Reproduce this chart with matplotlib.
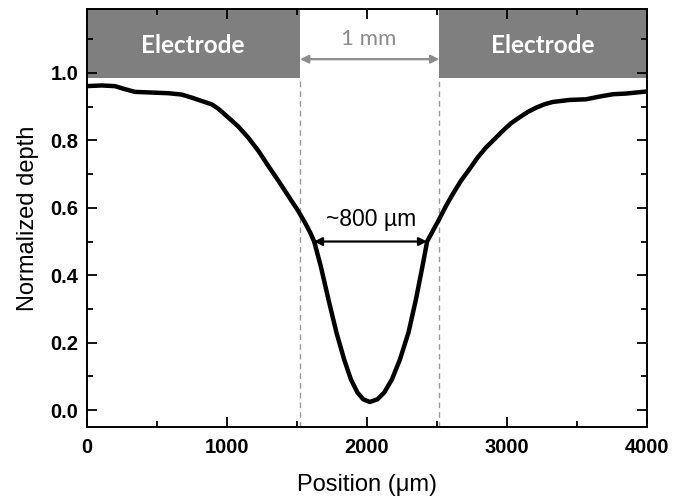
import matplotlib
matplotlib.use('Agg')
import matplotlib.pyplot as plt
from matplotlib.patches import Rectangle
from matplotlib.ticker import MultipleLocator

# profile
pos = [0, 107, 202, 274, 345, 464, 583, 679, 750, 821, 893, 940, 1011, 1083,
       1154, 1226, 1297, 1369, 1440, 1511, 1560, 1600, 1624, 1671, 1726, 1783,
       1838, 1886, 1933, 1974, 2021, 2076, 2124, 2179, 2236, 2297, 2350, 2397,
       2430, 2475, 2516, 2564, 2612, 2671, 2731, 2790, 2850, 2909, 2969, 3029,
       3088, 3147, 3207, 3266, 3326, 3445, 3564, 3660, 3755, 3850, 3993]
depth = [0.961, 0.963, 0.961, 0.952, 0.944, 0.942, 0.940, 0.936, 0.927, 0.917,
         0.907, 0.894, 0.868, 0.841, 0.808, 0.769, 0.724, 0.680, 0.635, 0.590,
         0.555, 0.523, 0.500, 0.427, 0.328, 0.230, 0.150, 0.091, 0.052, 0.032,
         0.024, 0.032, 0.052, 0.091, 0.150, 0.230, 0.328, 0.427, 0.500, 0.535,
         0.566, 0.605, 0.640, 0.680, 0.714, 0.749, 0.779, 0.803, 0.828, 0.851,
         0.868, 0.884, 0.897, 0.907, 0.914, 0.920, 0.922, 0.930, 0.937, 0.939,
         0.945]

gap_left, gap_right = 1524, 2516
electrode_bottom = 0.984
ymin, ymax = -0.05, 1.19
xticks = [0, 1000, 2000, 3000, 4000]
yticks = [0.0, 0.2, 0.4, 0.6, 0.8, 1.0]

fig = plt.figure(figsize=(6.87, 4.97), dpi=100)
ax = fig.add_axes([0.126, 0.141, 0.816, 0.841])

# electrodes
ax.add_patch(Rectangle((0, electrode_bottom), gap_left, ymax - electrode_bottom,
                       color='#7f7f7f', lw=0, zorder=1))
ax.add_patch(Rectangle((gap_right, electrode_bottom), 4000 - gap_right,
                       ymax - electrode_bottom, color='#7f7f7f', lw=0, zorder=1))
ax.text(755, 1.082, 'Electrode', color='white', fontsize=17.5,
        fontweight='bold', family='Lato', ha='center', va='center')
ax.text(3256, 1.082, 'Electrode', color='white', fontsize=17.5,
        fontweight='bold', family='Lato', ha='center', va='center')

# gap edges
for xv in [gap_left, gap_right]:
    ax.plot([xv, xv], [ymin, electrode_bottom], color='#999999', lw=1.0,
            ls=(0, (4, 3)), zorder=1)

# 1 mm arrow
ax.annotate('', xy=(gap_left, 1.041), xytext=(gap_right, 1.041),
            arrowprops=dict(arrowstyle='<|-|>', color='#8c8c8c', lw=1.6,
                            mutation_scale=12, shrinkA=0, shrinkB=0))
ax.text(2010, 1.100, '1 mm', color='#8c8c8c', fontsize=16,
        family='Lato', ha='center', va='center')

ax.plot(pos, depth, color='black', lw=3.2, zorder=3, solid_joinstyle='round')

# width arrow
ax.annotate('', xy=(1622, 0.50), xytext=(2430, 0.50),
            arrowprops=dict(arrowstyle='<|-|>', color='black', lw=1.6,
                            mutation_scale=12, shrinkA=0, shrinkB=0), zorder=4)
ax.text(2028, 0.566, '~800 µm', fontsize=16.5, family='Liberation Sans',
        ha='center', va='center')

ax.set_xlim(0, 4000)
ax.set_ylim(ymin, ymax)
ax.set_xticks(xticks)
ax.set_yticks(yticks)
ax.xaxis.set_minor_locator(MultipleLocator(500))
ax.yaxis.set_minor_locator(MultipleLocator(0.1))
ax.set_xticklabels([str(t) for t in xticks])
ax.set_yticklabels(['%.1f' % t for t in yticks])
ax.tick_params(which='both', direction='in', top=True, right=True, width=1.3)
ax.tick_params(which='major', length=7, labelsize=14.5)
ax.tick_params(axis='x', which='major', pad=8)
ax.tick_params(axis='y', which='major', pad=6)
ax.tick_params(which='minor', length=4.5)
for lab in ax.get_xticklabels() + ax.get_yticklabels():
    lab.set_fontweight('bold')
    lab.set_family('Liberation Sans')
for s in ax.spines.values():
    s.set_linewidth(1.4)
    s.set_zorder(5)

ax.set_xlabel('Position (\u03bcm)', fontsize=17, family='Liberation Sans', labelpad=12)
ax.set_ylabel('Normalized depth', fontsize=17, family='Liberation Sans', labelpad=8)

fig.savefig('out.png', dpi=100)
